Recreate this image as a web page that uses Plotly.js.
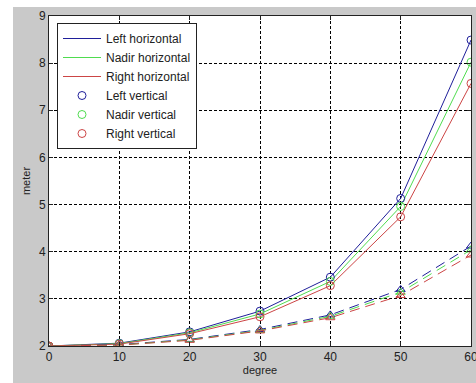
<!DOCTYPE html>
<html>
<head>
<meta charset="utf-8">
<script src="https://cdn.plot.ly/plotly-3.0.1.min.js"></script>
<style>html,body{margin:0;padding:0;background:#fff;}#chart{width:476px;height:383px;}</style>
</head>
<body>
<div id="chart"></div>
<script>
const degrees = [0, 10, 20, 30, 40, 50, 60];

const leftSolid  = [2.00, 2.06, 2.30, 2.74, 3.46, 5.13, 8.49];
const nadirSolid = [2.00, 2.05, 2.28, 2.68, 3.37, 4.96, 8.02];
const rightSolid = [2.00, 2.04, 2.26, 2.62, 3.28, 4.74, 7.57];

const leftDashed  = [2.00, 2.03, 2.14, 2.35, 2.66, 3.20, 4.12];
const nadirDashed = [2.00, 2.02, 2.13, 2.33, 2.63, 3.14, 4.04];
const rightDashed = [2.00, 2.02, 2.12, 2.32, 2.60, 3.07, 3.93];

const seriesNames = ["Left horizontal", "Nadir horizontal", "Right horizontal",
                     "Left vertical", "Nadir vertical", "Right vertical"];
const xTicks = [0, 10, 20, 30, 40, 50, 60];
const yTicks = [2, 3, 4, 5, 6, 7, 8, 9];

const colors = ["#1f1f9a", "#4fdc4f", "#cc4545"];
const solids = [leftSolid, nadirSolid, rightSolid];
const dashed = [leftDashed, nadirDashed, rightDashed];

const traces = [];
solids.forEach((ys, i) => {
  traces.push({x: degrees, y: ys, mode: "lines", name: seriesNames[i],
    line: {color: colors[i], width: 1}});
});
solids.forEach((ys, i) => {
  traces.push({x: degrees, y: ys, mode: "markers", name: seriesNames[i + 3],
    marker: {symbol: "circle-open", size: 8, color: colors[i], line: {width: 1, color: colors[i]}}});
});
dashed.forEach((ys, i) => {
  traces.push({x: degrees, y: ys, mode: "lines+markers", showlegend: false,
    line: {color: colors[i], width: 1, dash: "10px,6px"},
    marker: {symbol: "triangle-up-open", size: 8, color: colors[i], line: {width: 1, color: colors[i]}}});
});

const L = 49, R = 471, T = 16, B = 346;
const pw = R - L, ph = B - T;
const px = v => (v - L) / pw;
const py = v => (B - v) / ph;

const layout = {
  width: 476, height: 383,
  margin: {l: L, r: 476 - R, t: T, b: 383 - B, pad: 0},
  paper_bgcolor: "#c9c9c9",
  plot_bgcolor: "#ffffff",
  font: {family: "Liberation Sans, Arial, sans-serif", size: 12, color: "#222"},
  shapes: [
    {type: "rect", xref: "paper", yref: "paper", x0: px(0), x1: px(13), y0: py(383), y1: py(0),
     fillcolor: "#ffffff", line: {width: 0}, layer: "below"},
    {type: "rect", xref: "paper", yref: "paper", x0: px(0), x1: px(476), y0: py(7), y1: py(0),
     fillcolor: "#ffffff", line: {width: 0}, layer: "below"}
  ],
  xaxis: {
    range: [0, 60], tickvals: xTicks, ticktext: xTicks.map(String),
    showline: true, mirror: "ticks", linecolor: "#222", linewidth: 1,
    ticks: "inside", ticklen: 4, tickcolor: "#222",
    ticklabeloverflow: "allow",
    showgrid: true, gridcolor: "#000", gridwidth: 1, griddash: "3px,2px",
    zeroline: false,
    title: {text: "degree", font: {size: 11}, standoff: 2}
  },
  yaxis: {
    range: [2, 9], tickvals: yTicks, ticktext: yTicks.map(String),
    showline: true, mirror: "ticks", linecolor: "#222", linewidth: 1,
    ticks: "inside", ticklen: 4, tickcolor: "#222",
    ticklabeloverflow: "allow",
    showgrid: true, gridcolor: "#000", gridwidth: 1, griddash: "3px,2px",
    zeroline: false,
    title: {text: "meter", font: {size: 11}, standoff: 6}
  },
  legend: {
    x: px(57), y: py(23), xanchor: "left", yanchor: "top",
    bgcolor: "#ffffff", bordercolor: "#222", borderwidth: 1,
    font: {size: 12, color: "#222"}, tracegroupgap: 0, itemwidth: 38
  },
  showlegend: true
};

Plotly.newPlot("chart", traces, layout, {displayModeBar: false, staticPlot: true});
</script>
</body>
</html>
